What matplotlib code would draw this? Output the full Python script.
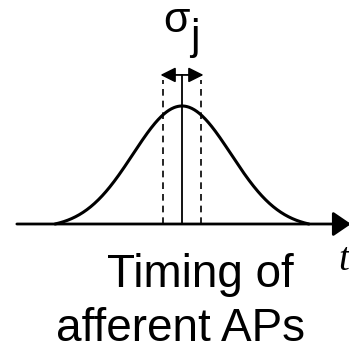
import numpy as np
import matplotlib
matplotlib.use("Agg")
import matplotlib.pyplot as plt
from matplotlib.patches import FancyArrowPatch

# distribution of afferent spike times (units of one sd)
mean_t = 0.0
sd_t = 1.0
half_span = 2.59          # curve drawn out to where it meets the axis
jitter_sd = 0.38          # sigma_j, marked by the dashed lines
jitter_arrow = 0.44
label_lines = ["Timing of", "afferent APs"]

plt.rcParams['font.family'] = ['Liberation Sans', 'DejaVu Sans']

fig = plt.figure(figsize=(3.49, 3.53), dpi=100)
ax = fig.add_axes([0, 0, 1, 1])
ax.set_xlim(-3.714, 3.408)
ax.set_ylim(-1.093, 1.898)
ax.axis('off')

t = np.linspace(mean_t - half_span, mean_t + half_span, 400)
g = np.exp(-0.5 * ((t - mean_t) / sd_t) ** 2)
g_end = np.exp(-0.5 * half_span ** 2)
ax.plot(t, (g - g_end) / (1 - g_end), color='black', lw=2.2,
        solid_capstyle='round')

# time axis
ax.add_patch(FancyArrowPatch((-3.37, 0), (3.45, 0),
                             arrowstyle='-|>,head_length=11,head_width=7.5',
                             mutation_scale=1, lw=2.0, color='black',
                             shrinkA=0, shrinkB=0))

# mean and +/- sigma_j markers
ax.plot([mean_t, mean_t], [0, 1.263], color='black', lw=1.3)
for s in (-jitter_sd, jitter_sd):
    ax.plot([mean_t + s] * 2, [0, 1.22], color='black', lw=1.2,
            dashes=(4, 3))
ax.add_patch(FancyArrowPatch((mean_t - jitter_arrow, 1.263),
                             (mean_t + jitter_arrow, 1.263),
                             arrowstyle='<|-|>,head_length=9,head_width=4.5',
                             mutation_scale=1, lw=1.3, color='black',
                             shrinkA=0, shrinkB=0))

ax.text(-0.12, 1.627, 'σ', fontsize=31, ha='center', va='baseline')
ax.text(0.265, 1.48, 'j', fontsize=31, ha='center', va='baseline')

ax.text(3.3, -0.39, 't', fontsize=28, ha='center', va='baseline',
        family=['Liberation Serif', 'DejaVu Serif'], style='italic')

ax.text(0.38, -0.53, label_lines[0], fontsize=33, ha='center',
        va='baseline')
ax.text(-0.04, -0.995, label_lines[1], fontsize=33, ha='center',
        va='baseline')

fig.savefig('out.png', dpi=100, facecolor='white')
